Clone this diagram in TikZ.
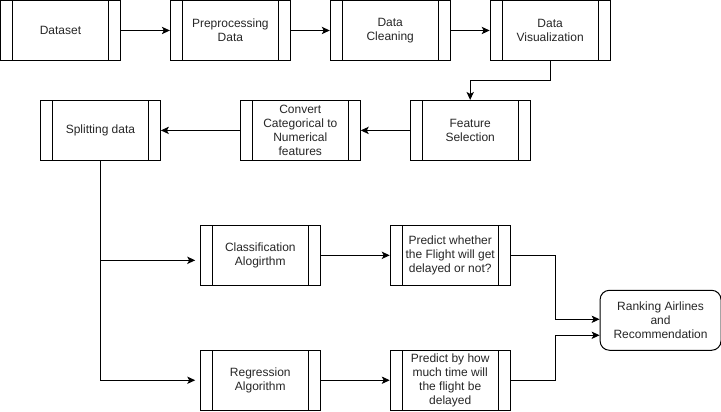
\documentclass[tikz,border=0pt]{standalone}
\usepackage{fontspec}
\setmainfont{Liberation Sans}
\usetikzlibrary{arrows.meta}
\tikzset{
  procbox/.style={draw, line width=0.75pt, minimum width=90pt, minimum height=45pt,
    inner sep=1pt, align=center, text=black!85,
    font=\fontsize{9}{10.4}\selectfont,
    path picture={
      \draw[line width=0.75pt] ([xshift=9pt]path picture bounding box.north west)
        -- ([xshift=9pt]path picture bounding box.south west);
      \draw[line width=0.75pt] ([xshift=-9pt]path picture bounding box.north east)
        -- ([xshift=-9pt]path picture bounding box.south east);}},
  endbox/.style={draw, line width=0.75pt, rounded corners=7pt, minimum width=90.75pt,
    minimum height=45pt, inner sep=1pt, align=center, text=black!85,
    font=\fontsize{9}{10.4}\selectfont},
  flow/.style={line width=0.75pt, -{Stealth[length=6pt,width=5.5pt,inset=1.5pt]}}
}
\begin{document}
\begin{tikzpicture}[x=0.75pt,y=-0.75pt]
  \useasboundingbox (-0.5,-0.5) rectangle (721,411);
  % first row
  \node[procbox] (dataset) at (60,30) {Dataset};
  \node[procbox] (prep) at (230,30) {Preprocessing\\Data};
  \node[procbox] (clean) at (390,30) {Data\\Cleaning};
  \node[procbox] (viz) at (550,30) {Data\\Visualization};
  % second row
  \node[procbox] (feat) at (470,130) {Feature\\Selection};
  \node[procbox] (conv) at (300,130) {Convert\\Categorical to\\Numerical\\features};
  \node[procbox] (split) at (100,130) {Splitting data};
  % models
  \node[procbox] (cls) at (260,255) {Classification\\Alogirthm};
  \node[procbox] (reg) at (260,380) {Regression\\Algorithm};
  \node[procbox] (pcls) at (450,255) {Predict whether\\the Flight will get\\delayed or not?};
  \node[procbox] (preg) at (450,380) {Predict by how\\much time will\\the flight be\\delayed};
  \node[endbox] (rank) at (660.5,320) {Ranking Airlines\\and\\Recommendation};

  \draw[flow] (dataset) -- (prep);
  \draw[flow] (prep) -- (clean);
  \draw[flow] (clean) -- (viz);
  \draw[flow] (viz.south) -- ++(0,20) -| (feat.north);
  \draw[flow] (feat) -- (conv);
  \draw[flow] (conv) -- (split);
  \draw[flow, shorten >=3.5pt] (split.south) |- ([yshift=-3.75pt]cls.west);
  \draw[flow, shorten >=3.5pt] (split.south) |- (reg.west);
  \draw[flow] (cls) -- (pcls);
  \draw[flow] (reg) -- (preg);
  \draw[flow] (pcls.east) -- ++(45,0) |- ([yshift=0.75pt]rank.west);
  \draw[flow] (preg.east) -- ++(45,0) |- ([yshift=-11.25pt]rank.west);
\end{tikzpicture}
\end{document}
